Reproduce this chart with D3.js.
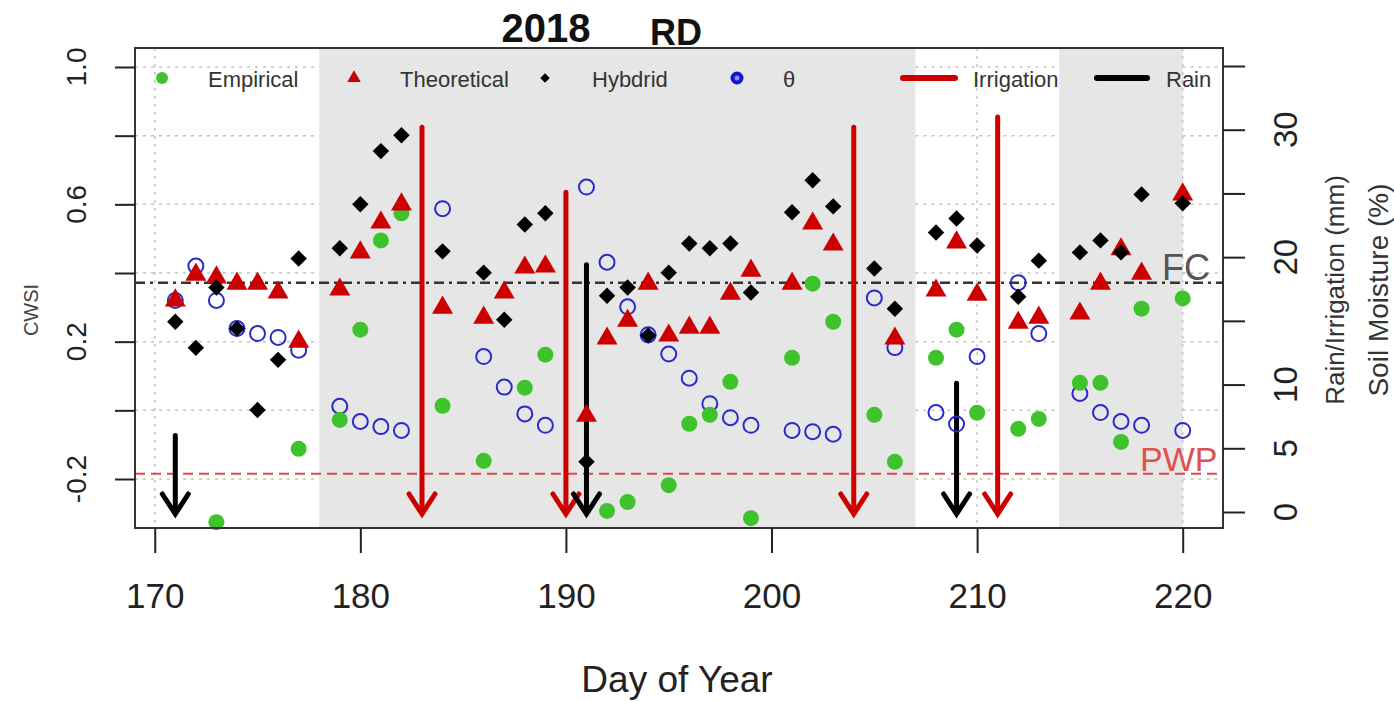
<!DOCTYPE html>
<html>
<head>
<meta charset="utf-8">
<script src="https://cdn.jsdelivr.net/npm/d3@7"></script>
<style>
body { margin: 0; background: #fff; }
svg text { font-family: 'Liberation Sans', Arial, sans-serif; }
</style>
</head>
<body>
<svg width="1394" height="701"></svg>
<script>
// CWSI values by day of year (left axis)
var empDays = [173, 177, 179, 180, 181, 182, 184, 186, 188, 189, 192, 193, 195, 196, 197, 198, 199, 201, 202, 203, 205, 206, 208, 209, 210, 212, 213, 215, 216, 217, 218, 220];
var empVals = [-0.326, -0.112, -0.028, 0.235, 0.495, 0.574, 0.013, -0.147, 0.066, 0.162, -0.293, -0.267, -0.218, -0.039, -0.013, 0.083, -0.314, 0.153, 0.369, 0.258, -0.013, -0.150, 0.153, 0.235, -0.007, -0.054, -0.025, 0.080, 0.080, -0.092, 0.296, 0.326];

var theoDays = [171, 172, 173, 174, 175, 176, 177, 179, 180, 181, 182, 184, 186, 187, 188, 189, 191, 192, 193, 194, 195, 196, 197, 198, 199, 201, 202, 203, 206, 208, 209, 210, 212, 213, 215, 216, 217, 218, 220];
var theoVals = [0.320, 0.395, 0.387, 0.369, 0.369, 0.343, 0.200, 0.352, 0.460, 0.547, 0.600, 0.299, 0.270, 0.343, 0.416, 0.419, -0.016, 0.209, 0.261, 0.369, 0.218, 0.241, 0.241, 0.340, 0.407, 0.369, 0.544, 0.483, 0.209, 0.349, 0.489, 0.337, 0.255, 0.270, 0.282, 0.369, 0.469, 0.398, 0.629];

var hybDays = [171, 172, 173, 174, 175, 176, 177, 179, 180, 181, 182, 184, 186, 187, 188, 189, 191, 192, 193, 194, 195, 196, 197, 198, 199, 201, 202, 203, 205, 206, 208, 209, 210, 212, 213, 215, 216, 217, 218, 220];
var hybVals = [0.258, 0.182, 0.358, 0.238, 0.001, 0.147, 0.442, 0.472, 0.600, 0.755, 0.801, 0.463, 0.401, 0.264, 0.541, 0.574, -0.150, 0.334, 0.358, 0.218, 0.401, 0.486, 0.472, 0.486, 0.343, 0.577, 0.670, 0.594, 0.413, 0.296, 0.518, 0.559, 0.480, 0.331, 0.436, 0.460, 0.495, 0.460, 0.629, 0.603];

// soil moisture (%) right axis
var thetaDays = [171, 172, 173, 174, 175, 176, 177, 179, 180, 181, 182, 184, 186, 187, 188, 189, 191, 192, 193, 194, 195, 196, 197, 198, 199, 201, 202, 203, 205, 206, 208, 209, 210, 212, 213, 215, 216, 217, 218, 220];
var thetaVals = [16.6, 19.3, 16.6, 14.4, 14.0, 13.7, 12.7, 8.3, 7.1, 6.7, 6.4, 23.8, 12.2, 9.8, 7.7, 6.8, 25.5, 19.6, 16.1, 13.9, 12.4, 10.5, 8.5, 7.4, 6.8, 6.4, 6.3, 6.1, 16.8, 12.9, 7.8, 6.9, 12.2, 18.0, 14.0, 9.3, 7.8, 7.1, 6.8, 6.4];

// rain / irrigation events (mm)
var irrDays = [183, 190, 204, 211];
var irrVals = [30.2, 25.1, 30.2, 31.0];
var rainDays = [171, 191, 209];
var rainVals = [6.0, 19.4, 10.1];

// shaded periods
var bandStart = [178, 214];
var bandEnd = [207, 220];

var fcLevel = 18, pwpLevel = 3;

var xTicks = [170, 180, 190, 200, 210, 220];
var yLeftTicks = [-0.2, 0, 0.2, 0.4, 0.6, 0.8, 1.0];
var yLeftLabels = ['-0.2', '0.2', '0.6', '1.0'];
var yRightTicks = [0, 5, 10, 15, 20, 25, 30, 35];
var yRightLabels = [0, 5, 10, 20, 30];

var legendNames = ['Empirical', 'Theoretical', 'Hybdrid', '\u03b8', 'Irrigation', 'Rain'];

var green = '#3ec32c', red = '#cc0000', blue = '#2a2acc';

var svg = d3.select('svg');
var box = {left: 135, right: 1223, top: 48, bottom: 528};

var x = d3.scaleLinear().domain([169.04, 221.96]).range([box.left, box.right]);
var yL = d3.scaleLinear().domain([-0.2, 1.0]).range([479, 67]);
var yR = d3.scaleLinear().domain([0, 35]).range([512, 66]);

function zip(days, vals) {
  return days.map(function(d, i) { return {day: d, v: vals[i]}; });
}

// gray bands
svg.selectAll('.band')
  .data(bandStart)
  .enter()
  .append('rect')
  .attr('class', 'band')
  .attr('x', function(d) { return x(d); })
  .attr('y', box.top)
  .attr('width', function(d, i) { return x(bandEnd[i]) - x(d); })
  .attr('height', box.bottom - box.top)
  .attr('fill', '#e6e6e6');

// dotted grid, only shows up in the white parts
var grid = svg.append('g').attr('class', 'grid');
var white = [[169.04, 178], [207, 214], [220, 221.96]];
white.forEach(function(w) {
  yLeftTicks.forEach(function(t) {
    grid.append('line')
      .attr('x1', x(w[0])).attr('x2', x(w[1]))
      .attr('y1', yL(t)).attr('y2', yL(t));
  });
  xTicks.forEach(function(t) {
    if (t >= w[0] && t <= w[1]) {
      grid.append('line')
        .attr('x1', x(t)).attr('x2', x(t))
        .attr('y1', box.top).attr('y2', box.bottom);
    }
  });
});
grid.selectAll('line')
  .attr('stroke', '#c4c4c4')
  .attr('stroke-width', 1.5)
  .attr('stroke-dasharray', '3,5');

// FC and PWP lines
svg.append('line')
  .attr('x1', box.left).attr('x2', box.right)
  .attr('y1', yR(fcLevel)).attr('y2', yR(fcLevel))
  .attr('stroke', '#333')
  .attr('stroke-width', 2.5)
  .attr('stroke-dasharray', '10,5,3,5');

svg.append('line')
  .attr('x1', box.left).attr('x2', box.right)
  .attr('y1', yR(pwpLevel)).attr('y2', yR(pwpLevel))
  .attr('stroke', '#e24848')
  .attr('stroke-width', 2)
  .attr('stroke-dasharray', '10,6');

svg.append('text')
  .attr('x', 1162).attr('y', yR(fcLevel) - 3)
  .attr('font-size', 36)
  .attr('fill', '#555')
  .text('FC');

svg.append('text')
  .attr('x', 1140).attr('y', yR(pwpLevel) - 3)
  .attr('font-size', 34)
  .attr('fill', '#e05050')
  .text('PWP');

// arrows go from the amount down to zero
function makeArrows(days, vals, col) {
  var g = svg.append('g');
  zip(days, vals).forEach(function(d) {
    var cx = x(d.day), tip = yR(0) + 2;
    g.append('line')
      .attr('x1', cx).attr('x2', cx)
      .attr('y1', yR(d.v)).attr('y2', tip - 2)
      .attr('stroke', col)
      .attr('stroke-width', 5)
      .attr('stroke-linecap', 'round');
    g.append('path')
      .attr('d', 'M' + (cx - 13) + ',' + (tip - 20) + 'L' + cx + ',' + tip + 'L' + (cx + 13) + ',' + (tip - 20))
      .attr('fill', 'none')
      .attr('stroke', col)
      .attr('stroke-width', 5)
      .attr('stroke-linecap', 'round');
  });
}
makeArrows(irrDays, irrVals, red);
makeArrows(rainDays, rainVals, '#000');

// points
var tri = d3.symbol().type(d3.symbolTriangle).size(190);
var dia = d3.symbol().type(d3.symbolSquare).size(135);

svg.append('g').selectAll('circle')
  .data(zip(thetaDays, thetaVals))
  .enter()
  .append('circle')
  .attr('cx', function(d) { return x(d.day); })
  .attr('cy', function(d) { return yR(d.v); })
  .attr('r', 7.5)
  .attr('fill', 'none')
  .attr('stroke', blue)
  .attr('stroke-width', 2);

svg.append('g').selectAll('circle')
  .data(zip(empDays, empVals))
  .enter()
  .append('circle')
  .attr('cx', function(d) { return x(d.day); })
  .attr('cy', function(d) { return yL(d.v); })
  .attr('r', 8)
  .attr('fill', green);

svg.append('g').selectAll('path')
  .data(zip(theoDays, theoVals))
  .enter()
  .append('path')
  .attr('d', tri)
  .attr('transform', function(d) { return 'translate(' + x(d.day) + ',' + yL(d.v) + ')'; })
  .attr('fill', red);

svg.append('g').selectAll('path')
  .data(zip(hybDays, hybVals))
  .enter()
  .append('path')
  .attr('d', dia)
  .attr('transform', function(d) { return 'translate(' + x(d.day) + ',' + yL(d.v) + ') rotate(45)'; })
  .attr('fill', '#000');

// legend
var lg = svg.append('g').attr('class', 'legend');
var lgMark = [162, 354, 545, 737, 929, 1122];
var lgText = [208, 400, 592, 783, 973, 1166];
var ly = 78;
lg.append('circle').attr('cx', lgMark[0]).attr('cy', ly).attr('r', 6).attr('fill', green);
lg.append('path').attr('d', d3.symbol().type(d3.symbolTriangle).size(80))
  .attr('transform', 'translate(' + lgMark[1] + ',' + ly + ')').attr('fill', red);
lg.append('path').attr('d', d3.symbol().type(d3.symbolSquare).size(45))
  .attr('transform', 'translate(' + lgMark[2] + ',' + ly + ') rotate(45)').attr('fill', '#000');
lg.append('circle').attr('cx', lgMark[3]).attr('cy', ly).attr('r', 4.5)
  .attr('fill', '#8888ee').attr('stroke', '#1414cc').attr('stroke-width', 4);
lg.append('line').attr('x1', lgMark[4] - 26).attr('x2', lgMark[4] + 26)
  .attr('y1', ly).attr('y2', ly).attr('stroke', red).attr('stroke-width', 6).attr('stroke-linecap', 'round');
lg.append('line').attr('x1', lgMark[5] - 25).attr('x2', lgMark[5] + 25)
  .attr('y1', ly).attr('y2', ly).attr('stroke', '#000').attr('stroke-width', 6).attr('stroke-linecap', 'round');

lg.selectAll('text')
  .data(legendNames)
  .enter()
  .append('text')
  .attr('x', function(d, i) { return lgText[i]; })
  .attr('y', 87)
  .attr('font-size', 22)
  .attr('fill', '#333')
  .text(function(d) { return d; });

// frame
svg.append('rect')
  .attr('x', box.left).attr('y', box.top)
  .attr('width', box.right - box.left).attr('height', box.bottom - box.top)
  .attr('fill', 'none')
  .attr('stroke', '#333')
  .attr('stroke-width', 2);

// axes, R style: no domain line, long ticks
var xAxis = svg.append('g')
  .attr('transform', 'translate(0,' + box.bottom + ')')
  .call(d3.axisBottom(x).tickValues(xTicks).tickSize(25).tickPadding(30).tickFormat(d3.format('d')));
xAxis.selectAll('text').attr('font-size', 35).attr('fill', '#222').attr('dy', '0.71em');

var yAxisL = svg.append('g')
  .attr('transform', 'translate(' + box.left + ',0)')
  .call(d3.axisLeft(yL).tickValues(yLeftTicks).tickSize(20).tickFormat(''));
svg.append('g').selectAll('text')
  .data(yLeftLabels)
  .enter()
  .append('text')
  .attr('transform', function(d) { return 'translate(86,' + yL(+d) + ') rotate(-90)'; })
  .attr('text-anchor', 'middle')
  .attr('font-size', 28)
  .attr('fill', '#222')
  .text(function(d) { return d; });

var yAxisR = svg.append('g')
  .attr('transform', 'translate(' + box.right + ',0)')
  .call(d3.axisRight(yR).tickValues(yRightTicks).tickSize(22).tickFormat(''));
svg.append('g').selectAll('text')
  .data(yRightLabels)
  .enter()
  .append('text')
  .attr('transform', function(d) { return 'translate(1297,' + yR(d) + ') rotate(-90)'; })
  .attr('text-anchor', 'middle')
  .attr('font-size', 33)
  .attr('fill', '#222')
  .text(function(d) { return d; });

[xAxis, yAxisL, yAxisR].forEach(function(a) {
  a.select('.domain').remove();
  a.selectAll('line').attr('stroke', '#222').attr('stroke-width', 2);
});

// titles
svg.append('text')
  .attr('x', 677).attr('y', 692)
  .attr('text-anchor', 'middle')
  .attr('font-size', 37)
  .attr('fill', '#222')
  .text('Day of Year');

svg.append('text')
  .attr('transform', 'translate(38,310) rotate(-90)')
  .attr('text-anchor', 'middle')
  .attr('font-size', 20)
  .attr('fill', '#444')
  .text('CWSI');

svg.append('text')
  .attr('transform', 'translate(1344,290) rotate(-90)')
  .attr('text-anchor', 'middle')
  .attr('font-size', 26)
  .attr('fill', '#333')
  .text('Rain/Irrigation (mm)');

svg.append('text')
  .attr('transform', 'translate(1388,290) rotate(-90)')
  .attr('text-anchor', 'middle')
  .attr('font-size', 28)
  .attr('fill', '#333')
  .text('Soil Moisture (%)');

svg.append('text')
  .attr('x', 546).attr('y', 42)
  .attr('text-anchor', 'middle')
  .attr('font-size', 40)
  .attr('font-weight', 'bold')
  .attr('fill', '#111')
  .text('2018');

svg.append('text')
  .attr('x', 676).attr('y', 45)
  .attr('text-anchor', 'middle')
  .attr('font-size', 36)
  .attr('font-weight', 'bold')
  .attr('fill', '#111')
  .text('RD');
</script>
</body>
</html>
